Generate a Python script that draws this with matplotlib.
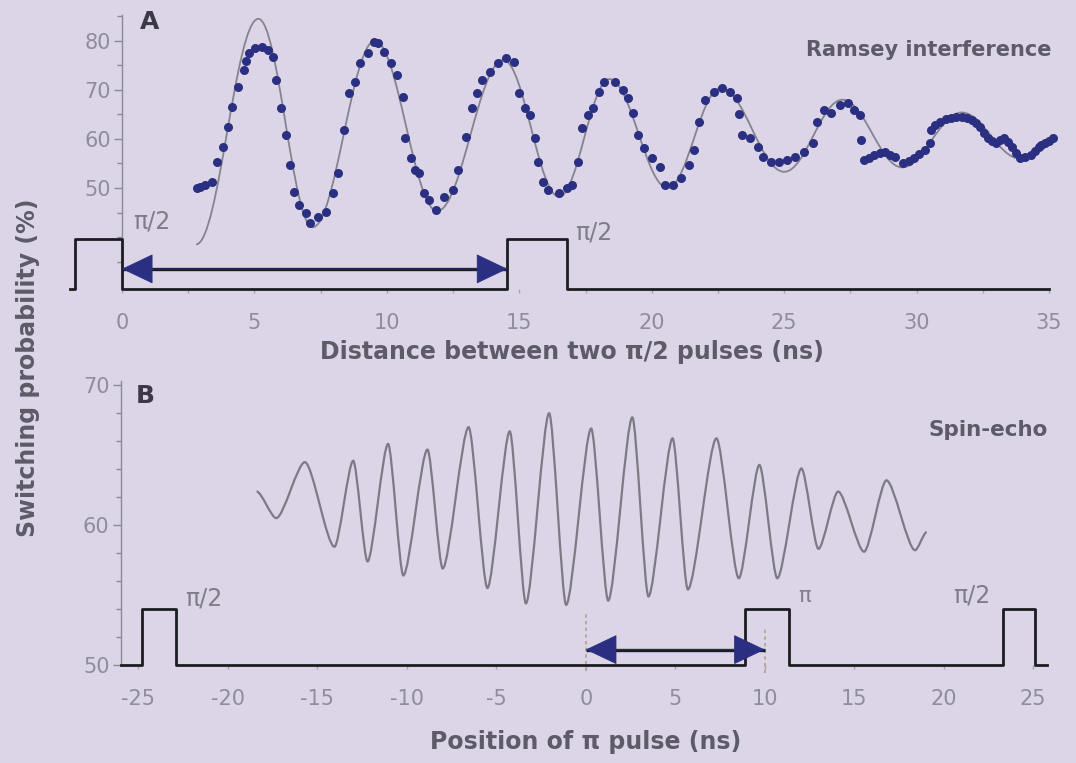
import matplotlib
matplotlib.use("Agg")
import matplotlib.pyplot as plt
from matplotlib.path import Path
from matplotlib.patches import PathPatch, FancyArrowPatch, ArrowStyle
from matplotlib.ticker import MultipleLocator, FixedLocator

# ---- panel A: Ramsey interference (measured points) ----
ramsey_t = [2.85, 2.95, 3.15, 3.4, 3.6, 3.8, 4.0, 4.17, 4.4, 4.6, 4.7, 4.8, 5.04, 5.3, 5.5,
            5.7, 5.8, 6.0, 6.2, 6.36, 6.48, 6.67, 6.93, 7.1, 7.4, 7.7, 7.95, 8.15, 8.4, 8.56,
            8.8, 9.0, 9.3, 9.5, 9.65, 9.9, 10.15, 10.4, 10.6, 10.7, 10.9, 11.05, 11.2, 11.4,
            11.6, 11.85, 12.15, 12.5, 12.7, 13.0, 13.2, 13.4, 13.6, 13.9, 14.2, 14.5, 14.8,
            15.0, 15.2, 15.4, 15.6, 15.7, 15.9, 16.1, 16.5, 16.8, 17.0, 17.2, 17.35, 17.6,
            17.8, 18.0, 18.2, 18.6, 18.9, 19.1, 19.3, 19.5, 19.7, 20.0, 20.3, 20.5, 20.8,
            21.1, 21.4, 21.6, 21.8, 22.0, 22.35, 22.65, 22.95, 23.2, 23.3, 23.4, 23.7, 24.0,
            24.2, 24.5, 24.8, 25.1, 25.4, 25.75, 26.1, 26.25, 26.5, 26.75, 27.1, 27.4, 27.65,
            27.85, 27.9, 28.0, 28.2, 28.4, 28.6, 28.8, 29.0, 29.2, 29.5, 29.7, 29.9, 30.1,
            30.3, 30.5, 30.55, 30.7, 30.9, 31.1, 31.3, 31.5, 31.7, 31.9, 32.1, 32.25, 32.4,
            32.55, 32.7, 32.85, 33.0, 33.15, 33.3, 33.45, 33.6, 33.75, 33.9, 34.1, 34.3,
            34.45, 34.6, 34.7, 34.85, 35.0, 35.15]
ramsey_p = [50.0, 50.3, 50.6, 51.2, 55.3, 58.4, 62.4, 66.5, 70.6, 74.0, 75.8, 77.6, 78.6, 78.8, 78.2,
            76.7, 72.0, 66.3, 60.8, 54.7, 49.2, 46.5, 44.9, 42.9, 44.1, 45.1, 49.0, 53.1, 61.8, 69.4,
            71.6, 75.5, 77.6, 79.8, 79.5, 77.8, 75.5, 73.0, 68.6, 60.2, 56.1, 53.7, 53.0, 49.0,
            47.5, 45.5, 48.2, 49.6, 53.7, 60.4, 66.3, 69.4, 72.0, 73.7, 75.5, 76.5, 75.7,
            69.4, 66.3, 64.9, 60.2, 55.3, 51.2, 49.6, 49.0, 50.0, 50.6, 55.3, 62.2, 64.9,
            66.3, 69.6, 71.6, 71.6, 70.0, 68.4, 65.3, 60.8, 58.2, 56.1, 54.3, 50.6, 50.6,
            52.0, 54.7, 57.8, 63.5, 68.0, 69.6, 70.4, 69.6, 68.4, 65.0, 60.8, 60.2, 58.4,
            56.3, 55.3, 55.3, 55.7, 56.3, 57.3, 59.2, 63.5, 65.9, 65.3, 66.9, 67.3, 65.9,
            64.9, 59.8, 55.7, 56.2, 56.7, 57.2, 57.3, 56.8, 56.3, 55.1, 55.6, 56.1, 57.0,
            57.8, 59.2, 61.8, 62.8, 63.5, 64.0, 64.3, 64.5, 64.5, 64.3, 63.9, 63.2, 62.4,
            61.3, 60.2, 59.6, 59.2, 59.7, 60.2, 59.3, 58.4, 57.2, 56.1, 56.3, 56.7,
            57.5, 58.4, 58.8, 59.2, 59.6, 60.2]

# fitted curve, turning points (peaks / troughs)
fit_t = [2.8, 5.15, 7.2, 9.55, 11.9, 14.4, 16.5, 18.4, 20.6, 22.6, 25.0, 27.2, 29.45, 31.7, 33.9]
fit_p = [38.5, 84.5, 42.0, 80.0, 45.3, 76.1, 48.2, 72.2, 50.0, 70.4, 53.3, 68.0, 54.2, 65.4, 56.0]

# ---- panel B: spin echo, turning points of the trace ----
echo_t = [-18.4, -17.3, -15.7, -14.05, -13.0, -12.2, -11.05, -10.2, -8.85, -8.0, -6.55, -5.5,
          -4.25, -3.35, -2.05, -1.1, 0.3, 1.25, 2.6, 3.5, 4.85, 5.7, 7.3, 8.55, 9.7, 10.7,
          12.05, 13.0, 14.1, 15.55, 16.8, 18.4, 19.05]
echo_p = [62.4, 60.5, 64.5, 58.45, 64.6, 57.4, 65.8, 56.4, 65.4, 56.9, 67.0, 55.5,
          66.7, 54.4, 68.0, 54.3, 66.9, 54.6, 67.7, 54.9, 66.2, 55.4, 66.2, 56.2, 64.3, 56.2,
          64.05, 58.3, 62.4, 58.1, 63.2, 58.2, 59.5]

# pulse sequences (start, end in ns)
a_pulse_start = [-1.77, 14.55]
a_pulse_end = [0.0, 16.8]
a_pulse_labels = ["π/2", "π/2"]
b_pulse_start = [-24.8, 8.9, 23.3]
b_pulse_end = [-22.9, 11.35, 25.1]
b_pulse_labels = ["π/2", "π", "π/2"]

BG = "#dbd5e7"
NAVY = "#2a2f82"
GREY_TXT = "#5d5b68"
TICK_TXT = "#8f8d9a"
LINE = "#1c1c22"

W, H = 1076, 763


def smooth(ax, xs, ys, k=0.37, **kw):
    # cubic bezier through turning points, flat tangent at each
    verts = [(xs[0], ys[0])]
    codes = [Path.MOVETO]
    for i in range(1, len(xs)):
        d = (xs[i] - xs[i - 1]) * k
        verts += [(xs[i - 1] + d, ys[i - 1]), (xs[i] - d, ys[i]), (xs[i], ys[i])]
        codes += [Path.CURVE4] * 3
    ax.add_patch(PathPatch(Path(verts, codes), fill=False, **kw))


def pulse_line(starts, ends, t0, t1, base, height):
    xs, ys = [t0], [base]
    for s, e in zip(starts, ends):
        xs += [s, s, e, e]
        ys += [base, base + height, base + height, base]
    xs.append(t1)
    ys.append(base)
    return xs, ys


def double_arrow(ax, x0, x1, y):
    ax.plot([x0, x1], [y, y], color=LINE, lw=2.4, solid_capstyle="butt", zorder=3)
    ax.add_patch(FancyArrowPatch((x0, y), (x1, y),
                                 arrowstyle=ArrowStyle("<|-|>", head_length=21, head_width=10),
                                 mutation_scale=1, shrinkA=0, shrinkB=0,
                                 fc=NAVY, ec=NAVY, lw=0.6, zorder=4))


def style(ax):
    ax.set_facecolor("none")
    for s in ["top", "right", "bottom"]:
        ax.spines[s].set_visible(False)
    ax.spines["left"].set_color("#8b8996")
    ax.spines["left"].set_linewidth(1.0)
    ax.tick_params(axis="y", which="major", length=6, width=1, color="#8b8996",
                   labelcolor=TICK_TXT, labelsize=15, pad=2)
    ax.tick_params(axis="y", which="minor", length=3.5, width=1, color="#8b8996")
    ax.tick_params(axis="x", which="both", length=3, width=1, color="#a5a3ae",
                   labelcolor=TICK_TXT, labelsize=15, pad=14)


fig = plt.figure(figsize=(W / 100, H / 100), dpi=100, facecolor=BG)

# ---------------- panel A ----------------
axA = fig.add_axes([61 / W, 1 - 289 / H, 1004 / W, 280 / H])
axA.set_xlim(-2.3, 35.6)
axA.set_ylim(29.4, 86.5)
style(axA)
axA.spines["left"].set_position(("data", 0))
axA.spines["left"].set_bounds(29.4, 85.3)
axA.yaxis.set_major_locator(FixedLocator([50, 60, 70, 80]))
axA.yaxis.set_minor_locator(FixedLocator([35, 40, 45, 55, 65, 75, 85]))
axA.xaxis.set_major_locator(MultipleLocator(5))
axA.xaxis.set_minor_locator(MultipleLocator(2.5))
axA.set_xticks(range(0, 36, 5))

smooth(axA, fit_t, fit_p, color="#85838e", lw=1.3, zorder=2)
axA.plot(ramsey_t, ramsey_p, "o", color=NAVY, ms=6.5, mew=0, zorder=3)

px, py = pulse_line(a_pulse_start, a_pulse_end, -1.96, 35.0, 29.4, 10.2)
axA.plot(px, py, color=LINE, lw=2.0, clip_on=False, zorder=3)
double_arrow(axA, a_pulse_end[0], a_pulse_start[1], 33.5)
axA.text(0.42, 43.1, a_pulse_labels[0], fontsize=17, color="#7f7d88", va="center")
axA.text(17.1, 40.9, a_pulse_labels[1], fontsize=17, color="#7f7d88", va="center")

# ---------------- panel B ----------------
axB = fig.add_axes([120.6 / W, 1 - 665 / H, 939.4 / W, 291 / H])
axB.set_xlim(-26.0, 26.5)
axB.set_ylim(50, 70.8)
style(axB)
axB.spines["left"].set_bounds(50, 70.3)
axB.yaxis.set_major_locator(FixedLocator([50, 60, 70]))
axB.yaxis.set_minor_locator(MultipleLocator(2))
axB.set_xticks(range(-25, 26, 5))
axB.set_xticklabels([str(v) for v in range(-25, 26, 5)])

smooth(axB, echo_t, echo_p, k=0.26, color="#7d7a86", lw=1.6, zorder=2)

px, py = pulse_line(b_pulse_start, b_pulse_end, -26.0, 25.8, 50, 4.0)
axB.plot(px, py, color=LINE, lw=2.0, clip_on=False, zorder=3)
axB.plot([0, 0], [49.6, 53.7], ls=(0, (2, 2)), color="#b3a08e", lw=1.2, clip_on=False, zorder=2)
axB.plot([10, 10], [49.4, 52.7], ls=(0, (2, 2)), color="#b3a08e", lw=1.2, clip_on=False, zorder=2)
double_arrow(axB, 0, 10, 51.1)
axB.text(-22.4, 54.75, b_pulse_labels[0], fontsize=17, color="#7f7d88", va="center")
axB.text(11.85, 54.9, b_pulse_labels[1], fontsize=15, color="#7f7d88", va="center")
axB.text(20.5, 55.0, b_pulse_labels[2], fontsize=17, color="#7f7d88", va="center")

# ---------------- texts ----------------
fig.text(140 / W, 1 - 10 / H, "A", fontsize=18, fontweight="bold", color="#3b3946", va="top")
fig.text(136 / W, 1 - 384 / H, "B", fontsize=18, fontweight="bold", color="#3b3946", va="top")
fig.text(1052 / W, 1 - 50 / H, "Ramsey interference", fontsize=15, fontweight="bold",
         color=GREY_TXT, ha="right", va="center")
fig.text(1048 / W, 1 - 430 / H, "Spin-echo", fontsize=15.5, fontweight="bold",
         color=GREY_TXT, ha="right", va="center")
fig.text(572 / W, 1 - 352 / H, "Distance between two π/2 pulses (ns)", fontsize=17,
         fontweight="bold", color=GREY_TXT, ha="center", va="center")
fig.text(586 / W, 1 - 742 / H, "Position of π pulse (ns)", fontsize=17,
         fontweight="bold", color=GREY_TXT, ha="center", va="center")
fig.text(28 / W, 1 - 368 / H, "Switching probability (%)", fontsize=17, fontweight="bold",
         color=GREY_TXT, ha="center", va="center", rotation=90)

fig.savefig("out.png", dpi=100, facecolor=BG)
